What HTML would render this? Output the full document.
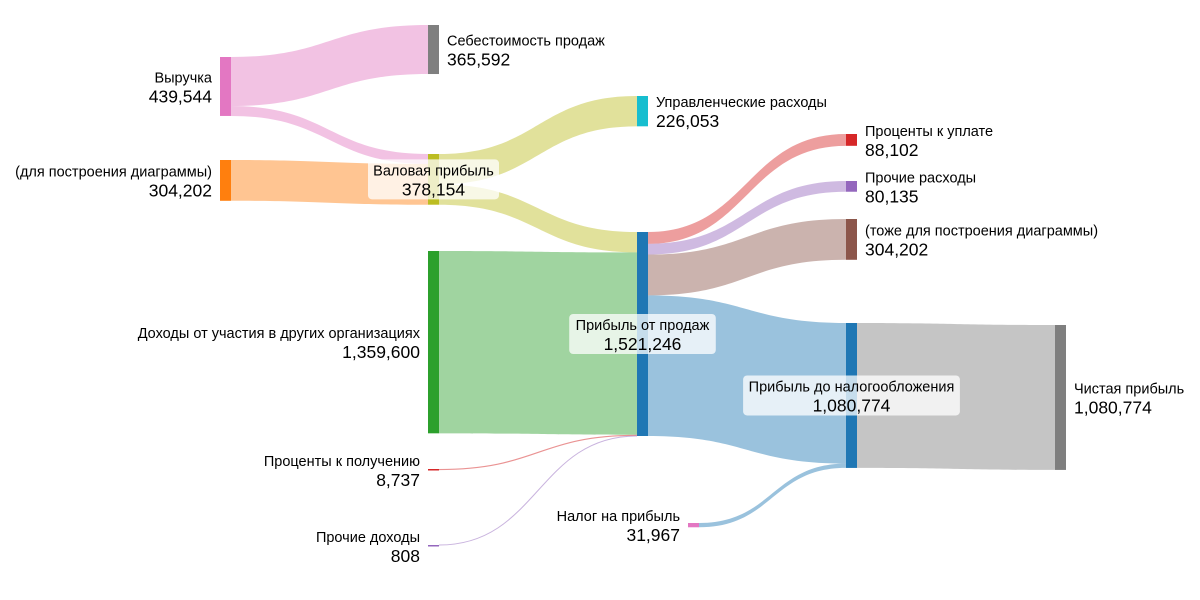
<!DOCTYPE html>
<html><head><meta charset="utf-8">
<style>
html,body{margin:0;padding:0;background:#fff;}
svg{display:block;font-family:"Liberation Sans","DejaVu Sans",sans-serif;}
</style></head>
<body>
<svg id="chart" width="1200" height="600" viewBox="0 0 1200 600" xmlns="http://www.w3.org/2000/svg">
<g id="links"></g>
<g id="nodes"></g>
<g id="labels"></g>
</svg>
<script>
// Data
const nodeNames = ["Выручка","(для построения диаграммы)","Себестоимость продаж","Валовая прибыль","Доходы от участия в других организациях","Проценты к получению","Прочие доходы","Управленческие расходы","Прибыль от продаж","Налог на прибыль","Проценты к уплате","Прочие расходы","(тоже для построения диаграммы)","Прибыль до налогообложения","Чистая прибыль"];
const nodeValues = [439544,304202,365592,378154,1359600,8737,808,226053,1521246,31967,88102,80135,304202,1080774,1080774];
const linkSources = [0,0,1,3,3,4,5,6,8,8,8,8,9,13];
const linkTargets = [2,3,3,7,8,8,8,8,10,11,12,13,13,14];
const linkValues = [365592,73952,304202,226053,152101,1359600,8737,808,88102,80135,304202,1048807,31967,1080774];

// Layout (not data)
const nodeLeft = [220,220,428,428,428,428,428,637,637,688,846,846,846,846,1055];
const nodeTop = [57,160,25,154,251,469,545,96,232,523,134,181,219,323,325];
const nodeColor = ["#e377c2","#ff7f0e","#7f7f7f","#bcbd22","#2ca02c","#d62728","#9467bd","#17becf","#1f77b4","#e377c2","#d62728","#9467bd","#8c564b","#1f77b4","#7f7f7f"];
const labelPos = ["left","left","right","center","left","left","left","right","center","left","right","right","right","center","right"];
const linkColor = ["rgba(227,119,194,0.45)","rgba(227,119,194,0.45)","rgba(255,127,14,0.45)","rgba(188,189,34,0.45)","rgba(188,189,34,0.45)","rgba(44,160,44,0.45)","rgba(214,39,40,0.5)","rgba(148,103,189,0.5)","rgba(214,39,40,0.45)","rgba(148,103,189,0.45)","rgba(140,86,75,0.45)","rgba(31,119,180,0.45)","rgba(31,119,180,0.45)","rgba(127,127,127,0.45)"];
const NW = 11;
const k = 204/1521246;
const NS = "http://www.w3.org/2000/svg";
const fmt = v => v.toLocaleString("en-US");
const slug = s => s.toLowerCase().replace(/[^a-zа-яё0-9]+/g,"-").replace(/^-|-$/g,"");

const outOff = nodeValues.map(()=>0), inOff = nodeValues.map(()=>0);
const gl = document.getElementById("links");
linkValues.forEach((v,i)=>{
  const s=linkSources[i], t=linkTargets[i];
  const h=v*k;
  const x0=nodeLeft[s]+NW, x1=nodeLeft[t];
  const y0=nodeTop[s]+outOff[s], y1=nodeTop[t]+inOff[t];
  outOff[s]+=h; inOff[t]+=h;
  const xm=(x0+x1)/2;
  const p=document.createElementNS(NS,"path");
  if(h<1.2){
    const c0=y0+h/2,c1=y1+h/2;
    p.setAttribute("d",`M${x0},${c0}C${xm},${c0} ${xm},${c1} ${x1},${c1}`);
    p.setAttribute("fill","none");p.setAttribute("stroke",linkColor[i]);p.setAttribute("stroke-width",Math.max(h,1));
  } else {
    p.setAttribute("d",`M${x0},${y0}C${xm},${y0} ${xm},${y1} ${x1},${y1}L${x1},${y1+h}C${xm},${y1+h} ${xm},${y0+h} ${x0},${y0+h}Z`);
    p.setAttribute("fill",linkColor[i]);
  }
  
  
  gl.appendChild(p);
});

const gn=document.getElementById("nodes"), gt=document.getElementById("labels");
nodeValues.forEach((v,i)=>{
  const x=nodeLeft[i], y=nodeTop[i], h=Math.max(v*k,1.5);
  const r=document.createElementNS(NS,"rect");
  r.setAttribute("x",x);r.setAttribute("y",y);r.setAttribute("width",NW);r.setAttribute("height",h);r.setAttribute("fill",nodeColor[i]);
  
  
  gn.appendChild(r);
  const cy=y+h/2;
  const g=document.createElementNS(NS,"g");
  
  
  let tx, anchor;
  if(labelPos[i]==="left"){tx=x-8;anchor="end";}
  else if(labelPos[i]==="right"){tx=x+NW+8;anchor="start";}
  else {tx=x+NW/2;anchor="middle";}
  const t1=document.createElementNS(NS,"text");
  t1.setAttribute("x",tx);t1.setAttribute("y",cy-4);t1.setAttribute("font-size","14.5");t1.setAttribute("text-anchor",anchor);t1.setAttribute("fill","#000");
  t1.textContent=nodeNames[i];
  const t2=document.createElementNS(NS,"text");
  t2.setAttribute("x",tx);t2.setAttribute("y",cy+16);t2.setAttribute("font-size","17.5");t2.setAttribute("text-anchor",anchor);t2.setAttribute("fill","#000");
  t2.textContent=fmt(v);
  gt.appendChild(g);
  if(labelPos[i]==="center"){
    const w=Math.max(nodeNames[i].length*7.8, fmt(v).length*9.7)+14;
    const b=document.createElementNS(NS,"rect");
    b.setAttribute("x",tx-w/2);b.setAttribute("y",cy-20);b.setAttribute("width",w);b.setAttribute("height",40);b.setAttribute("rx",4);
    b.setAttribute("fill","rgba(255,255,255,0.75)");
    
    
    g.appendChild(b);
  }
  g.appendChild(t1);g.appendChild(t2);
});
</script>
</body></html>
